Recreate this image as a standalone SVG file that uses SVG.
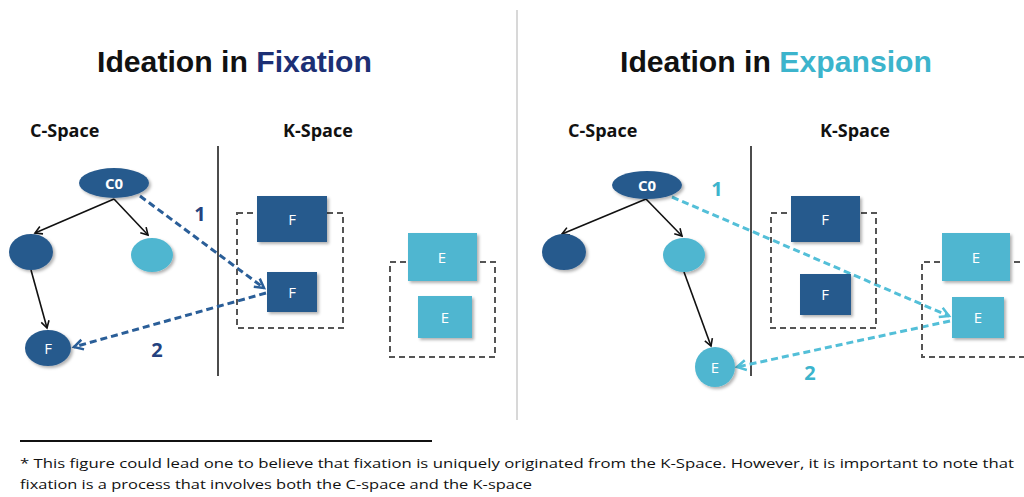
<svg xmlns="http://www.w3.org/2000/svg" width="1024" height="497" viewBox="0 0 1024 497">
<defs>
<style>
.title{font-family:"Liberation Sans",Arial,sans-serif;font-weight:bold;font-size:30px}
.space{font-family:"Open Sans","Liberation Sans",sans-serif;font-weight:bold;font-size:18px;fill:#111}
.lbl{font-family:"Open Sans","Liberation Sans",sans-serif;font-size:15px;fill:#fff;text-anchor:middle}
.num{font-family:"Open Sans","Liberation Sans",sans-serif;font-weight:bold;font-size:20px}
.dark{fill:#285a8d}
.light{fill:#4fb6d0}
.box{fill:none;stroke:#555;stroke-width:2;stroke-dasharray:6 4}
.blk{stroke:#111;stroke-width:1.6;fill:none;marker-end:url(#ab)}
.dd{stroke:#2a5e98;stroke-width:3;fill:none;stroke-dasharray:7 4;marker-end:url(#ad)}
.dc{stroke:#53bfd8;stroke-width:3;fill:none;stroke-dasharray:7 4;marker-end:url(#ac)}
.foot{font-family:"Open Sans","Liberation Sans",sans-serif;font-size:13px;fill:#111}
</style>
<filter id="sh" x="-20%" y="-20%" width="150%" height="150%"><feDropShadow dx="2" dy="2" stdDeviation="1.5" flood-color="#000" flood-opacity="0.3"/></filter>
<marker id="ab" markerWidth="10" markerHeight="10" refX="8" refY="5" orient="auto" markerUnits="userSpaceOnUse"><path d="M1,1 L8,5 L1,9" fill="none" stroke="#111" stroke-width="1.6"/></marker>
<marker id="ad" markerWidth="14" markerHeight="14" refX="11" refY="7" orient="auto" markerUnits="userSpaceOnUse"><path d="M2,2 L11,7 L2,12" fill="none" stroke="#2a5e98" stroke-width="2.5"/></marker>
<marker id="ac" markerWidth="14" markerHeight="14" refX="11" refY="7" orient="auto" markerUnits="userSpaceOnUse"><path d="M2,2 L11,7 L2,12" fill="none" stroke="#53bfd8" stroke-width="2.5"/></marker>
</defs>
<rect width="1024" height="497" fill="#fff"/>
<line x1="517" y1="10" x2="517" y2="420" stroke="#d8d8d8" stroke-width="2"/>

<g id="titles">
<text class="title" x="97" y="72" textLength="275" lengthAdjust="spacingAndGlyphs"><tspan fill="#111">Ideation in </tspan><tspan fill="#1c2f74">Fixation</tspan></text>
<text class="title" x="620" y="72" textLength="312" lengthAdjust="spacingAndGlyphs"><tspan fill="#111">Ideation in </tspan><tspan fill="#3cb4cc">Expansion</tspan></text>
<text class="space" x="30" y="137">C-Space</text>
<text class="space" x="283" y="137">K-Space</text>
<text class="space" x="568" y="137">C-Space</text>
<text class="space" x="820" y="137">K-Space</text>
</g>

<g id="dividers">
<line x1="218" y1="146" x2="218" y2="376" stroke="#111" stroke-width="1.5"/>
<line x1="751" y1="146" x2="751" y2="376" stroke="#111" stroke-width="1.5"/>
</g>

<g id="connectors">
<line class="blk" x1="114" y1="199" x2="35" y2="233"/>
<line class="blk" x1="114" y1="199" x2="148" y2="235"/>
<line class="blk" x1="31" y1="270" x2="47" y2="328"/>
<line class="dd" x1="140" y1="196" x2="264" y2="288"/>
<line class="dd" x1="266" y1="293" x2="74" y2="347"/>
<line class="blk" x1="646" y1="199" x2="562" y2="234"/>
<line class="blk" x1="646" y1="199" x2="682" y2="236"/>
<line class="blk" x1="684" y1="272" x2="711" y2="346"/>
<line class="dc" x1="672" y1="197" x2="949" y2="316"/>
<line class="dc" x1="950" y1="321" x2="737" y2="367"/>
</g>

<g id="labels">
<text class="num" x="200" y="221" text-anchor="middle" fill="#24427f">1</text>
<text class="num" x="157" y="357" text-anchor="middle" fill="#24427f">2</text>
<text class="num" x="717" y="196" text-anchor="middle" fill="#3cb4cc">1</text>
<text class="num" x="810" y="380" text-anchor="middle" fill="#3cb4cc">2</text>
</g>

<g id="left-c0"><ellipse class="dark" cx="114" cy="183" rx="35" ry="15" filter="url(#sh)"/><text class="lbl" x="114" y="189" font-weight="bold">C0</text></g>
<g id="left-n1"><ellipse class="dark" cx="31" cy="252" rx="22" ry="18" filter="url(#sh)"/></g>
<g id="left-n2"><ellipse class="light" cx="152" cy="255" rx="21" ry="17" filter="url(#sh)"/></g>
<g id="left-f"><ellipse class="dark" cx="48" cy="348" rx="23" ry="18" filter="url(#sh)"/><text class="lbl" x="48" y="354">F</text></g>

<g id="left-kbox1"><rect class="box" x="237" y="213" width="106" height="115"/></g>
<g id="left-kf1"><rect class="dark" x="257" y="196" width="70" height="46" filter="url(#sh)"/><text class="lbl" x="292" y="225">F</text></g>
<g id="left-kf2"><rect class="dark" x="267" y="272" width="50" height="40" filter="url(#sh)"/><text class="lbl" x="292" y="298">F</text></g>
<g id="left-kbox2"><rect class="box" x="390" y="262" width="105" height="95"/></g>
<g id="left-ke1"><rect class="light" x="408" y="233" width="69" height="48" filter="url(#sh)"/><text class="lbl" x="442" y="263">E</text></g>
<g id="left-ke2"><rect class="light" x="418" y="296" width="54" height="42" filter="url(#sh)"/><text class="lbl" x="445" y="323">E</text></g>

<g id="right-c0"><ellipse class="dark" cx="647" cy="185" rx="35" ry="14" filter="url(#sh)"/><text class="lbl" x="647" y="191" font-weight="bold">C0</text></g>
<g id="right-n1"><ellipse class="dark" cx="564" cy="252" rx="22" ry="18" filter="url(#sh)"/></g>
<g id="right-n2"><ellipse class="light" cx="684" cy="255" rx="21" ry="17" filter="url(#sh)"/></g>
<g id="right-e"><circle class="light" cx="715" cy="367" r="20" filter="url(#sh)"/><text class="lbl" x="715" y="373">E</text></g>

<g id="right-kbox1"><rect class="box" x="771" y="213" width="105" height="115"/></g>
<g id="right-kf1"><rect class="dark" x="791" y="196" width="69" height="46" filter="url(#sh)"/><text class="lbl" x="825" y="225">F</text></g>
<g id="right-kf2"><rect class="dark" x="800" y="274" width="51" height="41" filter="url(#sh)"/><text class="lbl" x="825" y="300">F</text></g>
<g id="right-kbox2"><path class="box" d="M1030,262 H922 V357 H1030"/></g>
<g id="right-ke1"><rect class="light" x="942" y="233" width="68" height="48" filter="url(#sh)"/><text class="lbl" x="976" y="263">E</text></g>
<g id="right-ke2"><rect class="light" x="952" y="297" width="52" height="41" filter="url(#sh)"/><text class="lbl" x="978" y="323">E</text></g>

<g id="footnote">
<line x1="20" y1="441" x2="432" y2="441" stroke="#111" stroke-width="2"/>
<text class="foot" x="20" y="468" textLength="994" lengthAdjust="spacingAndGlyphs">* This figure could lead one to believe that fixation is uniquely originated from the K-Space. However, it is important to note that</text>
<text class="foot" x="20" y="489" textLength="512" lengthAdjust="spacingAndGlyphs">fixation is a process that involves both the C-space and the K-space</text>
</g>
</svg>
